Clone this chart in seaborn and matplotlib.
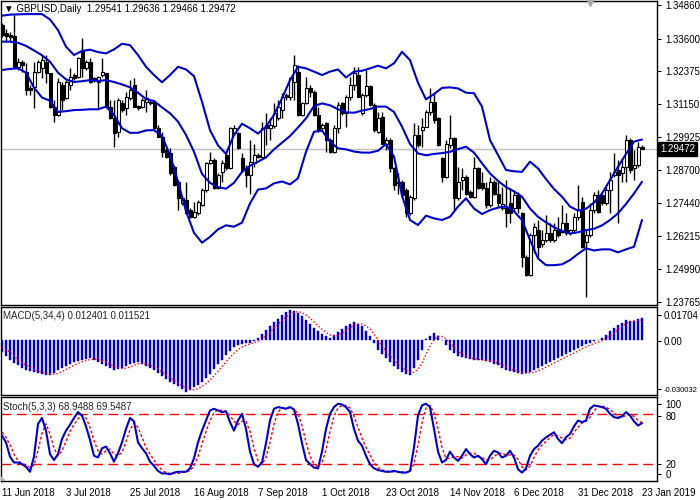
import numpy as np
import matplotlib
matplotlib.use("Agg")
import matplotlib.pyplot as plt
import seaborn as sns

# GBPUSD daily candles, 11 Jun 2018 .. 23 Jan 2019
opens = [1.3411, 1.3380, 1.3374, 1.3370, 1.3255, 1.3274, 1.3237, 1.3174, 1.3181, 1.3237,
         1.3249, 1.3274, 1.3230, 1.3106, 1.3075, 1.3187, 1.3137, 1.3187, 1.3224, 1.3218,
         1.3318, 1.3249, 1.3274, 1.3212, 1.3199, 1.3224, 1.3230, 1.3106, 1.3062, 1.3012,
         1.3118, 1.3099, 1.3137, 1.3187, 1.3108, 1.3106, 1.3124, 1.3124, 1.3124, 1.3025,
         1.2993, 1.2944, 1.2931, 1.2881, 1.2825, 1.2744, 1.2757, 1.2719, 1.2694, 1.2707,
         1.2738, 1.2794, 1.2894, 1.2906, 1.2800, 1.2862, 1.2925, 1.2875, 1.3006, 1.3006,
         1.2912, 1.2875, 1.2850, 1.2894, 1.2925, 1.2919, 1.3037, 1.3025, 1.3034, 1.3062,
         1.3093, 1.3149, 1.3143, 1.3199, 1.3237, 1.3075, 1.3118, 1.3174, 1.3162, 1.3075,
         1.3025, 1.3043, 1.2981, 1.2937, 1.3025, 1.3118, 1.3081, 1.3143, 1.3187, 1.3224,
         1.3081, 1.3149, 1.3183, 1.3112, 1.3012, 1.3068, 1.2968, 1.2981, 1.2875, 1.2819,
         1.2825, 1.2794, 1.2707, 1.2763, 1.3000, 1.3018, 1.3031, 1.3087, 1.3124, 1.3062,
         1.2912, 1.2844, 1.2962, 1.2987, 1.2763, 1.2831, 1.2844, 1.2788, 1.2769, 1.2875,
         1.2821, 1.2800, 1.2738, 1.2825, 1.2781, 1.2725, 1.2725, 1.2744, 1.2725, 1.2775,
         1.2707, 1.2544, 1.2476, 1.2626, 1.2644, 1.2594, 1.2607, 1.2632, 1.2607, 1.2647,
         1.2638, 1.2672, 1.2632, 1.2644, 1.2694, 1.2750, 1.2601, 1.2626, 1.2719, 1.2775,
         1.2775, 1.2744, 1.2794, 1.2850, 1.2869, 1.2856, 1.2881, 1.2981, 1.2875, 1.2887,
         1.29541]
highs = [1.3417, 1.3395, 1.3386, 1.3449, 1.3287, 1.3280, 1.3268, 1.3187, 1.3274, 1.3280,
         1.3299, 1.3299, 1.3233, 1.3131, 1.3212, 1.3199, 1.3205, 1.3249, 1.3230, 1.3293,
         1.3361, 1.3280, 1.3287, 1.3218, 1.3220, 1.3287, 1.3233, 1.3131, 1.3131, 1.3137,
         1.3131, 1.3162, 1.3205, 1.3212, 1.3112, 1.3137, 1.3168, 1.3131, 1.3131, 1.3037,
         1.3012, 1.2950, 1.2950, 1.2887, 1.2831, 1.2769, 1.2825, 1.2725, 1.2750, 1.2757,
         1.2800, 1.2900, 1.2937, 1.2912, 1.2856, 1.2906, 1.2931, 1.3031, 1.3037, 1.3012,
         1.2931, 1.2887, 1.2981, 1.2968, 1.2931, 1.3050, 1.3081, 1.3062, 1.3118, 1.3131,
         1.3156, 1.3156, 1.3218, 1.3299, 1.3262, 1.3124, 1.3218, 1.3187, 1.3168, 1.3106,
         1.3043, 1.3050, 1.2987, 1.3037, 1.3124, 1.3124, 1.3149, 1.3218, 1.3255, 1.3255,
         1.3156, 1.3243, 1.3187, 1.3118, 1.3087, 1.3087, 1.2993, 1.2987, 1.2881, 1.2856,
         1.2831, 1.2800, 1.2775, 1.3043, 1.3037, 1.3062, 1.3093, 1.3174, 1.3156, 1.3068,
         1.2919, 1.2981, 1.3075, 1.2991, 1.2881, 1.2875, 1.2850, 1.2794, 1.2919, 1.2881,
         1.2862, 1.2825, 1.2844, 1.2831, 1.2825, 1.2806, 1.2831, 1.2800, 1.2794, 1.2788,
         1.2713, 1.2551, 1.2632, 1.2669, 1.2682, 1.2644, 1.2700, 1.2669, 1.2669, 1.2694,
         1.2738, 1.2707, 1.2650, 1.2707, 1.2813, 1.2769, 1.2644, 1.2744, 1.2788, 1.2794,
         1.2781, 1.2806, 1.2862, 1.2931, 1.2906, 1.2906, 1.3000, 1.2987, 1.2944, 1.2975,
         1.29636]
lows = [1.3368, 1.3349, 1.3349, 1.3253, 1.3243, 1.3237, 1.3149, 1.3149, 1.3099, 1.3230,
        1.3212, 1.3193, 1.3099, 1.3050, 1.3071, 1.3093, 1.3133, 1.3168, 1.3205, 1.3212,
        1.3218, 1.3243, 1.3193, 1.3199, 1.3099, 1.3218, 1.3103, 1.3058, 1.2956, 1.2993,
        1.3087, 1.3075, 1.3131, 1.3103, 1.3093, 1.3099, 1.3087, 1.3112, 1.3021, 1.2991,
        1.2919, 1.2912, 1.2850, 1.2809, 1.2719, 1.2738, 1.2704, 1.2688, 1.2688, 1.2700,
        1.2734, 1.2788, 1.2891, 1.2796, 1.2796, 1.2825, 1.2869, 1.2871, 1.3000, 1.2946,
        1.2862, 1.2806, 1.2781, 1.2881, 1.2912, 1.2916, 1.2962, 1.2981, 1.3025, 1.3056,
        1.3062, 1.3131, 1.3131, 1.3131, 1.3071, 1.3071, 1.3116, 1.3143, 1.3071, 1.3012,
        1.3018, 1.2937, 1.2931, 1.2931, 1.3006, 1.3075, 1.3031, 1.3131, 1.3168, 1.3141,
        1.3075, 1.3143, 1.3108, 1.3012, 1.3008, 1.2966, 1.2944, 1.2862, 1.2794, 1.2781,
        1.2769, 1.2694, 1.2700, 1.2757, 1.2956, 1.2956, 1.3028, 1.3075, 1.3043, 1.2959,
        1.2825, 1.2838, 1.2950, 1.2719, 1.2757, 1.2794, 1.2775, 1.2763, 1.2763, 1.2796,
        1.2794, 1.2725, 1.2732, 1.2775, 1.2732, 1.2719, 1.2657, 1.2669, 1.2713, 1.2707,
        1.2507, 1.2472, 1.2472, 1.2557, 1.2544, 1.2582, 1.2601, 1.2601, 1.2601, 1.2619,
        1.2632, 1.2626, 1.2626, 1.2632, 1.2682, 1.2576, 1.2395, 1.2619, 1.2707, 1.2707,
        1.2738, 1.2738, 1.2707, 1.2844, 1.2669, 1.2825, 1.2825, 1.2856, 1.2831, 1.2881,
        1.29466]
closes = [1.3374, 1.3370, 1.3368, 1.3255, 1.3274, 1.3262, 1.3168, 1.3168, 1.3237, 1.3274,
          1.3280, 1.3230, 1.3106, 1.3075, 1.3199, 1.3131, 1.3199, 1.3218, 1.3212, 1.3287,
          1.3249, 1.3274, 1.3199, 1.3205, 1.3218, 1.3237, 1.3106, 1.3062, 1.3006, 1.3131,
          1.3093, 1.3143, 1.3168, 1.3106, 1.3099, 1.3131, 1.3137, 1.3118, 1.3025, 1.2993,
          1.2937, 1.2919, 1.2856, 1.2813, 1.2763, 1.2763, 1.2707, 1.2694, 1.2713, 1.2750,
          1.2794, 1.2894, 1.2906, 1.2800, 1.2850, 1.2894, 1.2875, 1.3025, 1.3025, 1.2950,
          1.2869, 1.2850, 1.2900, 1.2925, 1.2919, 1.3025, 1.3025, 1.3037, 1.3081, 1.3106,
          1.3143, 1.3141, 1.3212, 1.3262, 1.3075, 1.3118, 1.3174, 1.3162, 1.3075, 1.3018,
          1.3037, 1.2981, 1.2937, 1.3025, 1.3112, 1.3081, 1.3143, 1.3187, 1.3230, 1.3143,
          1.3149, 1.3183, 1.3112, 1.3018, 1.3062, 1.2968, 1.2981, 1.2875, 1.2813, 1.2825,
          1.2775, 1.2707, 1.2769, 1.3000, 1.2962, 1.3031, 1.3087, 1.3124, 1.3056, 1.2962,
          1.2844, 1.2968, 1.2987, 1.2763, 1.2825, 1.2844, 1.2781, 1.2769, 1.2875, 1.2800,
          1.2800, 1.2738, 1.2825, 1.2781, 1.2744, 1.2742, 1.2707, 1.2707, 1.2775, 1.2725,
          1.2544, 1.2476, 1.2626, 1.2657, 1.2582, 1.2607, 1.2632, 1.2607, 1.2644, 1.2626,
          1.2669, 1.2632, 1.2644, 1.2694, 1.2719, 1.2582, 1.2626, 1.2719, 1.2775, 1.2713,
          1.2744, 1.2794, 1.2831, 1.2862, 1.2850, 1.2881, 1.2981, 1.2869, 1.2887, 1.2956,
          1.29472]

# Bollinger bands, read every 2nd bar
band_bars = list(range(0, 161, 2))
bb_upper = [1.3446, 1.3450, 1.3451, 1.3452, 1.3452, 1.3452, 1.3432, 1.3392, 1.3330, 1.3299,
            1.3314, 1.3319, 1.3310, 1.3305, 1.3320, 1.3341, 1.3336, 1.3299, 1.3255, 1.3224,
            1.3197, 1.3224, 1.3255, 1.3245, 1.3220, 1.3124, 1.3018, 1.2961, 1.2929, 1.3000,
            1.3042, 1.3025, 1.3005, 1.3031, 1.3075, 1.3137, 1.3205, 1.3255, 1.3249, 1.3237,
            1.3224, 1.3237, 1.3245, 1.3215, 1.3237, 1.3240, 1.3249, 1.3259, 1.3249, 1.3268,
            1.3311, 1.3280, 1.3195, 1.3133, 1.3153, 1.3176, 1.3178, 1.3174, 1.3158, 1.3156,
            1.3106, 1.2981, 1.2925, 1.2869, 1.2864, 1.2862, 1.2900, 1.2875, 1.2835, 1.2798,
            1.2769, 1.2732, 1.2717, 1.2724, 1.2747, 1.2781, 1.2831, 1.2881, 1.2929, 1.2975,
            1.2983]
bb_middle = [1.3349, 1.3349, 1.3345, 1.3333, 1.3316, 1.3298, 1.3274, 1.3233, 1.3208, 1.3198,
             1.3201, 1.3205, 1.3202, 1.3205, 1.3198, 1.3189, 1.3178, 1.3158, 1.3134, 1.3127,
             1.3103, 1.3081, 1.3050, 1.3000, 1.2937, 1.2854, 1.2821, 1.2805, 1.2799, 1.2821,
             1.2862, 1.2885, 1.2900, 1.2916, 1.2946, 1.2971, 1.2996, 1.3028, 1.3062, 1.3108,
             1.3118, 1.3111, 1.3096, 1.3085, 1.3083, 1.3091, 1.3097, 1.3106, 1.3106, 1.3086,
             1.3031, 1.2966, 1.2931, 1.2924, 1.2929, 1.2932, 1.2937, 1.2947, 1.2956, 1.2934,
             1.2894, 1.2856, 1.2828, 1.2805, 1.2789, 1.2769, 1.2725, 1.2694, 1.2673, 1.2655,
             1.2641, 1.2631, 1.2636, 1.2644, 1.2649, 1.2662, 1.2682, 1.2707, 1.2742, 1.2781,
             1.2825]
bb_lower = [1.3243, 1.3247, 1.3249, 1.3233, 1.3177, 1.3140, 1.3128, 1.3086, 1.3089, 1.3093,
            1.3094, 1.3096, 1.3096, 1.3106, 1.3075, 1.3025, 1.3008, 1.3008, 1.3017, 1.3018,
            1.2996, 1.2925, 1.2825, 1.2715, 1.2634, 1.2597, 1.2619, 1.2647, 1.2662, 1.2657,
            1.2672, 1.2744, 1.2796, 1.2800, 1.2819, 1.2826, 1.2815, 1.2838, 1.2937, 1.3012,
            1.3016, 1.2975, 1.2950, 1.2946, 1.2938, 1.2934, 1.2934, 1.2941, 1.2966, 1.2919,
            1.2773, 1.2682, 1.2663, 1.2698, 1.2688, 1.2682, 1.2694, 1.2732, 1.2763, 1.2725,
            1.2704, 1.2719, 1.2728, 1.2733, 1.2714, 1.2682, 1.2607, 1.2538, 1.2513, 1.2513,
            1.2516, 1.2532, 1.2555, 1.2576, 1.2568, 1.2572, 1.2572, 1.2561, 1.2572, 1.2582,
            1.2682]

# MACD(5,34,4): main histogram and signal, one value per bar
macd_hist = [-0.0069, -0.0092, -0.0115, -0.0131, -0.0144, -0.0160, -0.0172, -0.0179, -0.0184, -0.0190,
             -0.0196, -0.0199, -0.0201, -0.0187, -0.0172, -0.0160, -0.0150, -0.0138, -0.0127, -0.0121,
             -0.0115, -0.0108, -0.0103, -0.0114, -0.0127, -0.0139, -0.0150, -0.0162, -0.0172, -0.0168,
             -0.0161, -0.0149, -0.0138, -0.0132, -0.0127, -0.0137, -0.0150, -0.0160, -0.0172, -0.0189,
             -0.0207, -0.0226, -0.0242, -0.0255, -0.0264, -0.0282, -0.0300, -0.0290, -0.0270, -0.0256,
             -0.0242, -0.0220, -0.0196, -0.0168, -0.0138, -0.0112, -0.0086, -0.0062, -0.0040, -0.0030,
             -0.0023, -0.0019, -0.0017, -0.0003, 0.0011, 0.0035, 0.0057, 0.0081, 0.0104, 0.0123,
             0.0145, 0.0160, 0.0170, 0.0165, 0.0158, 0.0137, 0.0115, 0.0093, 0.0069, 0.0051,
             0.0035, 0.0021, 0.0011, 0.0028, 0.0046, 0.0064, 0.0080, 0.0093, 0.0104, 0.0093,
             0.0080, 0.0053, 0.0023, -0.0018, -0.0057, -0.0081, -0.0103, -0.0128, -0.0150, -0.0168,
             -0.0184, -0.0194, -0.0201, -0.0160, -0.0115, -0.0056, 0.0005, 0.0021, 0.0040, 0.0021,
             -0.0001, -0.0028, -0.0057, -0.0075, -0.0092, -0.0098, -0.0103, -0.0110, -0.0115, -0.0115,
             -0.0115, -0.0121, -0.0127, -0.0135, -0.0144, -0.0159, -0.0172, -0.0179, -0.0184, -0.0190,
             -0.0196, -0.0190, -0.0184, -0.0173, -0.0161, -0.0150, -0.0138, -0.0126, -0.0115, -0.0103,
             -0.0092, -0.0081, -0.0069, -0.0057, -0.0046, -0.0034, -0.0023, -0.0015, -0.0008, 0.0000,
             0.0010, 0.0028, 0.0052, 0.0072, 0.0088, 0.0100, 0.0118, 0.0110, 0.0112, 0.0120,
             0.012401]
macd_signal = [-0.0040, -0.0055, -0.0069, -0.0092, -0.0115, -0.0131, -0.0144, -0.0158, -0.0170, -0.0178,
               -0.0184, -0.0190, -0.0194, -0.0196, -0.0192, -0.0182, -0.0170, -0.0158, -0.0145, -0.0134,
               -0.0125, -0.0118, -0.0112, -0.0110, -0.0111, -0.0118, -0.0128, -0.0140, -0.0152, -0.0160,
               -0.0164, -0.0162, -0.0155, -0.0145, -0.0137, -0.0134, -0.0137, -0.0145, -0.0155, -0.0167,
               -0.0182, -0.0199, -0.0216, -0.0233, -0.0247, -0.0261, -0.0275, -0.0284, -0.0286, -0.0280,
               -0.0267, -0.0251, -0.0229, -0.0206, -0.0180, -0.0153, -0.0126, -0.0100, -0.0075, -0.0055,
               -0.0040, -0.0030, -0.0022, -0.0016, -0.0007, 0.0006, 0.0025, 0.0046, 0.0069, 0.0091,
               0.0113, 0.0133, 0.0150, 0.0160, 0.0163, 0.0158, 0.0144, 0.0126, 0.0104, 0.0082,
               0.0062, 0.0044, 0.0030, 0.0024, 0.0026, 0.0040, 0.0054, 0.0071, 0.0085, 0.0092,
               0.0092, 0.0082, 0.0062, 0.0034, 0.0000, -0.0033, -0.0065, -0.0092, -0.0116, -0.0137,
               -0.0155, -0.0174, -0.0187, -0.0185, -0.0168, -0.0133, -0.0082, -0.0036, 0.0002, 0.0022,
               0.0020, 0.0008, -0.0016, -0.0040, -0.0063, -0.0080, -0.0092, -0.0101, -0.0107, -0.0111,
               -0.0114, -0.0117, -0.0120, -0.0125, -0.0132, -0.0141, -0.0153, -0.0164, -0.0174, -0.0181,
               -0.0187, -0.0190, -0.0190, -0.0185, -0.0177, -0.0167, -0.0156, -0.0144, -0.0132, -0.0121,
               -0.0109, -0.0097, -0.0086, -0.0075, -0.0063, -0.0051, -0.0040, -0.0029, -0.0020, -0.0012,
               -0.0004, 0.0008, 0.0022, 0.0040, 0.0060, 0.0078, 0.0095, 0.0104, 0.0110, 0.0115,
               0.011521]

# Stoch(5,3,3): main and signal, one value per bar
stoch_main = [54, 46, 29, 22, 22, 20, 17, 11, 29, 68,
              75, 60, 32, 25, 32, 50, 60, 67, 75, 82,
              78, 65, 49, 30, 28, 39, 41, 33, 23, 33,
              46, 62, 75, 71, 46, 39, 33, 23, 18, 12,
              9, 9, 8, 10, 11, 11, 11, 15, 27, 46,
              60, 72, 84, 86, 84, 82, 83, 70, 60, 72,
              80, 62, 35, 20, 17, 22, 45, 72, 86, 88,
              87, 86, 88, 85, 68, 45, 25, 20, 16, 15,
              35, 62, 80, 88, 92, 91, 88, 82, 62, 48,
              42, 30, 20, 15, 13, 12, 11, 11, 12, 11,
              10, 10, 12, 40, 78, 90, 92, 88, 62, 35,
              22, 25, 35, 28, 24, 30, 38, 32, 28, 30,
              26, 20, 30, 36, 34, 28, 30, 36, 28, 14,
              10, 15, 30, 38, 42, 48, 52, 55, 58, 50,
              45, 52, 56, 65, 72, 70, 72, 86, 90, 89,
              88, 86, 80, 76, 75, 77, 82, 78, 71, 66,
              68.9488]
stoch_signal = [58, 52, 43, 32, 24, 21, 19, 16, 19, 36,
                57, 68, 56, 39, 30, 36, 47, 59, 67, 74,
                78, 75, 64, 48, 36, 32, 36, 38, 32, 30,
                34, 47, 61, 69, 64, 52, 40, 32, 25, 18,
                13, 10, 9, 9, 9, 10, 11, 12, 18, 29,
                44, 59, 72, 81, 85, 84, 83, 78, 71, 67,
                71, 71, 59, 39, 24, 20, 28, 46, 68, 82,
                87, 87, 87, 86, 80, 66, 46, 30, 20, 17,
                22, 37, 59, 77, 87, 90, 90, 87, 77, 64,
                51, 40, 31, 22, 16, 13, 12, 11, 11, 11,
                11, 10, 11, 21, 43, 69, 87, 90, 81, 62,
                40, 27, 27, 29, 29, 27, 31, 33, 33, 30,
                28, 25, 25, 29, 33, 33, 31, 31, 31, 26,
                17, 13, 18, 28, 37, 43, 47, 52, 55, 54,
                51, 49, 51, 58, 64, 69, 71, 76, 83, 89,
                89, 88, 85, 81, 77, 76, 78, 79, 77, 72,
                69.5487]

date_labels = ["11 Jun 2018", "3 Jul 2018", "25 Jul 2018", "16 Aug 2018", "7 Sep 2018",
               "1 Oct 2018", "23 Oct 2018", "14 Nov 2018", "6 Dec 2018", "31 Dec 2018",
               "23 Jan 2019"]
date_bars = list(range(0, 161, 16))
price_ticks = [1.34860, 1.33600, 1.32375, 1.31150, 1.29925, 1.28700, 1.27440, 1.26215,
               1.24990, 1.23765]
macd_labels = ["0.01704", "0.00", "-0.030032"]
stoch_labels = ["100", "80", "20", "0"]

sns.set_style("white")
plt.rcParams['font.family'] = ['Liberation Sans', 'DejaVu Sans']
plt.rcParams['font.size'] = 7

BLUE = '#0000CD'
W, H = 700, 500
fig = plt.figure(figsize=(7, 5), dpi=100)


def px_axes(x0, y0, x1, y1):
    return fig.add_axes([x0 / W, 1 - y1 / H, (x1 - x0) / W, (y1 - y0) / H])


ax = px_axes(1, 1, 657, 305)
ax_m = px_axes(1, 307, 657, 395)
ax_s = px_axes(1, 397, 657, 481)

for a in (ax, ax_m, ax_s):
    a.set_xlim(-0.25, 163.75)
    a.set_facecolor('white')
    for sp in a.spines.values():
        sp.set_color('black')
        sp.set_linewidth(1)
    a.yaxis.tick_right()
    a.tick_params(axis='y', length=3, width=0.8, pad=3, colors='black', labelsize=7)
    a.tick_params(axis='x', length=0)
    a.set_xticks([])

# candles
o = np.array(opens)
c = np.array(closes)
hi = np.maximum(np.array(highs), np.maximum(o, c))
lo = np.minimum(np.array(lows), np.minimum(o, c))
xs = np.arange(len(o))
ax.vlines(xs, lo, hi, color='black', lw=1, zorder=2)
up = c >= o
body_h = np.maximum(np.abs(c - o), 0.00008)
ax.bar(xs[up], body_h[up], bottom=np.minimum(o, c)[up], width=0.75,
       color='white', edgecolor='black', linewidth=0.8, zorder=3)
ax.bar(xs[~up], body_h[~up], bottom=np.minimum(o, c)[~up], width=0.75,
       color='black', edgecolor='black', linewidth=0.8, zorder=3)

ax.axhline(closes[-1], color='#C0C0C0', lw=1, zorder=1)
for band in (bb_upper, bb_middle, bb_lower):
    sns.lineplot(x=band_bars, y=band, ax=ax, color=BLUE, lw=1.5, zorder=4)
ylo, yhi = 1.2364, 1.3501
ax.set_ylim(ylo, yhi)
ax.set_yticks(price_ticks)
ax.set_yticklabels([f"{t:.5f}" for t in price_ticks])
ax.set_ylabel('')
ax.text(659 / 656, (closes[-1] - ylo) / (yhi - ylo), f"{closes[-1]:.5f}", transform=ax.transAxes,
        color='white', fontsize=7, va='center', ha='left',
        bbox=dict(boxstyle='square,pad=0.2', fc='black', ec='black'))
ax.plot([147], [yhi - 0.0006], marker='v', color='#A8A8A8', markersize=5, clip_on=False, zorder=5)
fig.text(4 / W, 1 - 9 / H, "\u25bc GBPUSD,Daily  1.29541 1.29636 1.29466 1.29472",
         fontsize=7, va='center', ha='left', color='black')

# MACD
m_lo, m_hi = -0.0316, 0.0190
ax_m.bar(xs, macd_hist, width=0.62, color=BLUE, edgecolor=BLUE, linewidth=0.3, zorder=2)
sns.lineplot(x=xs, y=macd_signal, ax=ax_m, color='red', lw=1, zorder=3)
ax_m.lines[-1].set_dashes((1, 1.5))
ax_m.set_ylim(m_lo, m_hi)
# MT4 draws the extreme labels inset from the window edges
m_px = [315, 341, 389]
ax_m.set_yticks([m_hi - (p - 307) / 88 * (m_hi - m_lo) for p in m_px])
ax_m.set_yticklabels(macd_labels)
ax_m.tick_params(axis='y', pad=2)
ax_m.get_yticklabels()[-1].set_fontsize(5.5)
ax_m.set_ylabel('')
fig.text(3 / W, 1 - 316 / H, "MACD(5,34,4) 0.012401 0.011521", fontsize=7,
         va='center', ha='left')

# Stochastic
for lvl in (80, 20):
    ax_s.axhline(lvl, color='red', lw=1, dashes=(7, 4), zorder=1)
sns.lineplot(x=xs, y=stoch_signal, ax=ax_s, color='red', lw=1, zorder=2)
ax_s.lines[-1].set_dashes((2, 1.5))
sns.lineplot(x=xs, y=stoch_main, ax=ax_s, color=BLUE, lw=1.5, zorder=3)
ax_s.set_ylim(0, 100)
s_px = [404, 416, 464, 474]
ax_s.set_yticks([100 - (p - 397) / 84 * 100 for p in s_px])
ax_s.set_yticklabels(stoch_labels)
ax_s.set_ylabel('')
ax_s.fill([-0.25, 1.0, -0.25], [0, 0, 6], color='#B0B0B0', lw=0, clip_on=False, zorder=4)
ax_s.set_xticks(date_bars)
ax_s.set_xticklabels(date_labels, ha='left')
ax_s.tick_params(axis='x', length=4, width=0.8, pad=1, colors='black', labelsize=7)
fig.text(3 / W, 1 - 407 / H, "Stoch(5,3,3) 68.9488 69.5487", fontsize=7,
         va='center', ha='left')

fig.savefig('out.png', dpi=100)
